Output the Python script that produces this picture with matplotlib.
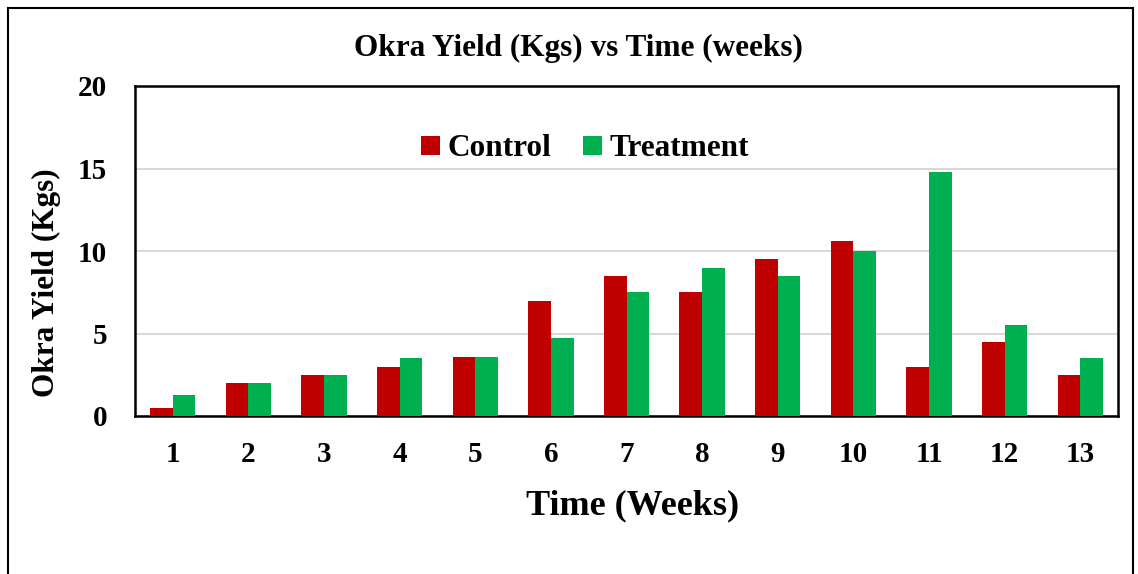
import matplotlib
matplotlib.use("Agg")
import matplotlib.pyplot as plt
import numpy as np
from matplotlib.patches import Rectangle

# ---- Data ----
weeks = ["1", "2", "3", "4", "5", "6", "7", "8", "9", "10", "11", "12", "13"]
control = [0.5, 2.0, 2.5, 3.0, 3.6, 7.0, 8.5, 7.5, 9.5, 10.6, 3.0, 4.5, 2.5]
treatment = [1.25, 2.0, 2.5, 3.5, 3.6, 4.7, 7.5, 9.0, 8.5, 10.0, 14.8, 5.5, 3.5]

plt.rcParams["font.family"] = ["Liberation Serif", "DejaVu Serif"]
plt.rcParams["font.weight"] = "bold"

# -----------------------------
# Create figure
# -----------------------------
W, H = 1138, 574
fig = plt.figure(figsize=(W / 100, H / 100), dpi=100)
ax = fig.add_axes([135 / W, 1 - 416 / H, (1118 - 135) / W, (416 - 86) / H])

x = np.arange(len(weeks))
bw = 0.3
ax.bar(x - bw / 2, control, width=bw, color="#C00000", label="Control", zorder=3)
ax.bar(x + bw / 2, treatment, width=bw, color="#00B050", label="Treatment", zorder=3)

ax.set_xlim(-0.5, len(weeks) - 0.5)
ax.set_ylim(0, 20)
ax.set_yticks([0, 5, 10, 15, 20])
ax.set_xticks(x)
ax.set_xticklabels(weeks)
ax.tick_params(axis="both", length=0, labelsize=21)
ax.tick_params(axis="x", pad=18)
ax.tick_params(axis="y", pad=20)

ax.yaxis.grid(True, color="#D9D9D9", linewidth=1.5, zorder=0)
ax.set_axisbelow(True)
for s in ax.spines.values():
    s.set_linewidth(1.8)
    s.set_color("black")

ax.legend(loc="center", bbox_to_anchor=((585 - 135) / (1118 - 135), (416 - 149) / 330),
          ncol=2, frameon=False, fontsize=22.5, handlelength=0.6, handleheight=0.6,
          handletextpad=0.25, columnspacing=1.0)

# ---- Titles ----
fig.text(578 / W, 1 - 48 / H, "Okra Yield (Kgs) vs Time (weeks)",
         ha="center", va="center", fontsize=22.5, fontweight="bold")
fig.text(633 / W, 1 - 506 / H, "Time (Weeks)",
         ha="center", va="center", fontsize=26, fontweight="bold")
fig.text(46 / W, 1 - 283 / H, "Okra Yield (Kgs)", rotation=90,
         ha="center", va="center", fontsize=22.5, fontweight="bold")

# outer chart border
fig.patches.append(Rectangle((8 / W, -0.05), (1133 - 8) / W, 1.05 - 8 / H,
                             transform=fig.transFigure, fill=False,
                             edgecolor="black", linewidth=1.5))

plt.savefig("out.png", dpi=100)
